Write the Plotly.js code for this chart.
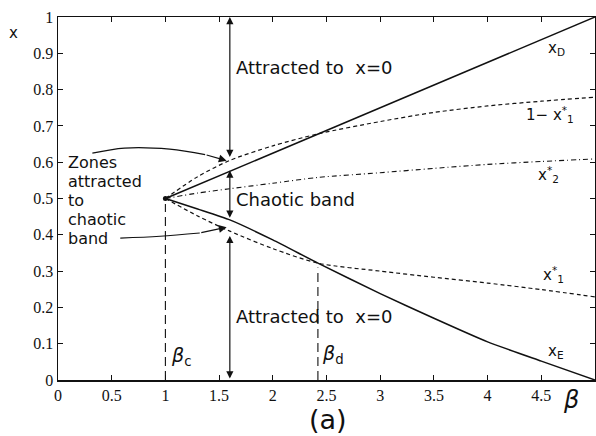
<!DOCTYPE html>
<html>
<head>
<meta charset="utf-8">
<script src="https://cdn.plot.ly/plotly-3.0.1.min.js"></script>
<style>html,body{margin:0;padding:0;background:#fff}#chart{width:596px;height:436px}</style>
</head>
<body>
<div id="chart"></div>
<script>
// Bifurcation parameter beta and the branches of the map
const beta = [1, 1.3, 1.6, 2.0, 2.42, 3.0, 3.5, 4.0, 4.5, 5.0];
const xD   = [0.5, 0.5375, 0.575, 0.625, 0.6775, 0.75, 0.8125, 0.875, 0.9375, 1.0];
const xE   = [0.5, 0.471, 0.441, 0.386, 0.322, 0.238, 0.170, 0.105, 0.052, 0.0];
const oneMinusX1 = [0.5, 0.56, 0.605, 0.645, 0.678, 0.712, 0.737, 0.755, 0.768, 0.779];
const x1Star = [0.5, 0.452, 0.41, 0.362, 0.322, 0.300, 0.283, 0.267, 0.249, 0.229];
const x2Star = [0.5, 0.515, 0.527, 0.542, 0.558, 0.571, 0.583, 0.594, 0.602, 0.609];

// Critical parameter values
const betaC = 1.0, betaCTop = 0.485;
const betaD = 2.42, betaDTop = 0.31;

// Vertical arrows marking the basins at beta = 1.6
const arrowBeta = 1.6;
const zoneBounds = [[0.61, 1.0], [0.443, 0.577], [0.0, 0.397]];

// Curved pointers from the "Zones attracted to chaotic band" note
const pointerUpB = [0.32, 0.62, 1.04, 1.37, 1.57];
const pointerUpX = [0.625, 0.639, 0.636, 0.621, 0.604];
const pointerLoB = [0.58, 0.95, 1.32, 1.57];
const pointerLoX = [0.391, 0.396, 0.405, 0.421];

// Note on the left, one line per entry
const zoneLines = ['Zones', 'attracted', 'to', 'chaotic', 'band'];
const zoneLineY = [0.600, 0.548, 0.495, 0.443, 0.391];

const black = '#111';
const traces = [
  {x: beta, y: xD, mode: 'lines', line: {color: black, width: 1.5}},
  {x: beta, y: xE, mode: 'lines', line: {color: black, width: 1.5, shape: 'spline', smoothing: 0.5}},
  {x: beta, y: oneMinusX1, mode: 'lines', line: {color: black, width: 1.2, dash: '4px,3px', shape: 'spline', smoothing: 0.8}},
  {x: beta, y: x1Star, mode: 'lines', line: {color: black, width: 1.2, dash: '4px,3px', shape: 'spline', smoothing: 0.8}},
  {x: beta, y: x2Star, mode: 'lines', line: {color: black, width: 1.1, dash: '5px,3px,1px,3px', shape: 'spline', smoothing: 0.8}},
  {x: [betaC, betaC], y: [0, betaCTop], mode: 'lines', line: {color: black, width: 1.1, dash: '9px,5px'}},
  {x: [betaD, betaD], y: [0, betaDTop], mode: 'lines', line: {color: black, width: 1.1, dash: '9px,5px'}},
  {x: pointerUpB.slice(0, -1), y: pointerUpX.slice(0, -1), mode: 'lines', line: {color: black, width: 1.2, shape: 'spline'}},
  {x: pointerLoB.slice(0, -1), y: pointerLoX.slice(0, -1), mode: 'lines', line: {color: black, width: 1.2, shape: 'spline'}},
  {x: [beta[0]], y: [xD[0]], mode: 'markers', marker: {color: black, size: 5}}
];

const sans = 'DejaVu Sans, sans-serif';
const textFont = {family: sans, size: 18, color: black};
const labelFont = {family: sans, size: 15, color: black};

function note(x, y, text, extra) {
  return Object.assign({x: x, y: y, xref: 'x', yref: 'y', text: text, showarrow: false,
    font: textFont, xanchor: 'left', yanchor: 'middle'}, extra || {});
}

const annotations = [
  note(1.635, 0.862, 'Attracted to  x=0'),
  note(1.635, 0.498, 'Chaotic band'),
  note(1.635, 0.176, 'Attracted to  x=0'),
  note(4.54, 0.912, 'x<sub>D</sub>', {font: labelFont}),
  note(4.34, 0.732, '1− x<sup>*</sup><sub>1</sub>', {font: labelFont}),
  note(4.45, 0.565, 'x<sup>*</sup><sub>2</sub>', {font: labelFont}),
  note(4.50, 0.292, 'x<sup>*</sup><sub>1</sub>', {font: labelFont}),
  note(4.54, 0.078, 'x<sub>E</sub>', {font: labelFont}),
  note(1.03, 0.065, '<i>β</i><sub>c</sub>', {font: {family: sans, size: 19, color: black}}),
  note(2.44, 0.07, '<i>β</i><sub>d</sub>', {font: {family: sans, size: 19, color: black}}),
  {xref: 'paper', yref: 'paper', x: 0.955, y: -0.055, text: '<i>β</i>', showarrow: false,
    font: {family: sans, size: 24, color: black}, xanchor: 'center', yanchor: 'middle'},
  {xref: 'paper', yref: 'paper', x: 0.503, y: -0.11, text: '(a)', showarrow: false,
    font: {family: sans, size: 27, color: black}, xanchor: 'center', yanchor: 'middle'},
  {xref: 'paper', yref: 'paper', x: -0.083, y: 0.955, text: 'x', showarrow: false,
    font: {family: sans, size: 15, color: black}, xanchor: 'center', yanchor: 'middle'}
];
zoneLines.forEach(function (t, i) {
  annotations.push(note(0.07, zoneLineY[i], t, {font: {family: sans, size: 16, color: black}}));
});

// double-headed basin arrows
zoneBounds.forEach(function (b) {
  annotations.push({x: arrowBeta, y: b[1], ax: arrowBeta, ay: b[0], xref: 'x', yref: 'y', axref: 'x', ayref: 'y',
    showarrow: true, arrowhead: 2, startarrowhead: 2, arrowside: 'end+start', arrowsize: 1.2, arrowwidth: 1.2,
    arrowcolor: black, text: ''});
});
// heads of the curved pointers
[[pointerUpB, pointerUpX], [pointerLoB, pointerLoX]].forEach(function (p) {
  const n = p[0].length;
  annotations.push({x: p[0][n - 1], y: p[1][n - 1], ax: p[0][n - 2], ay: p[1][n - 2], xref: 'x', yref: 'y',
    axref: 'x', ayref: 'y', showarrow: true, arrowhead: 2, arrowsize: 1.3, arrowwidth: 1.2, arrowcolor: black, text: ''});
});

const axisCommon = {
  showgrid: false, zeroline: false, showline: true, linecolor: black, linewidth: 1.5,
  mirror: 'ticks', ticks: 'inside', ticklen: 5, tickwidth: 1, tickcolor: black,
  tickfont: {family: '"Liberation Serif", "Times New Roman", serif', size: 16, color: black}
};

const layout = {
  width: 596, height: 436,
  margin: {l: 58, r: 1, t: 17, b: 56},
  paper_bgcolor: '#fff', plot_bgcolor: '#fff',
  showlegend: false,
  xaxis: Object.assign({range: [0, 5], dtick: 0.5, tick0: 0}, axisCommon),
  yaxis: Object.assign({range: [0, 1], dtick: 0.1, tick0: 0}, axisCommon),
  annotations: annotations
};

Plotly.newPlot('chart', traces, layout, {displayModeBar: false, staticPlot: true});
</script>
</body>
</html>
